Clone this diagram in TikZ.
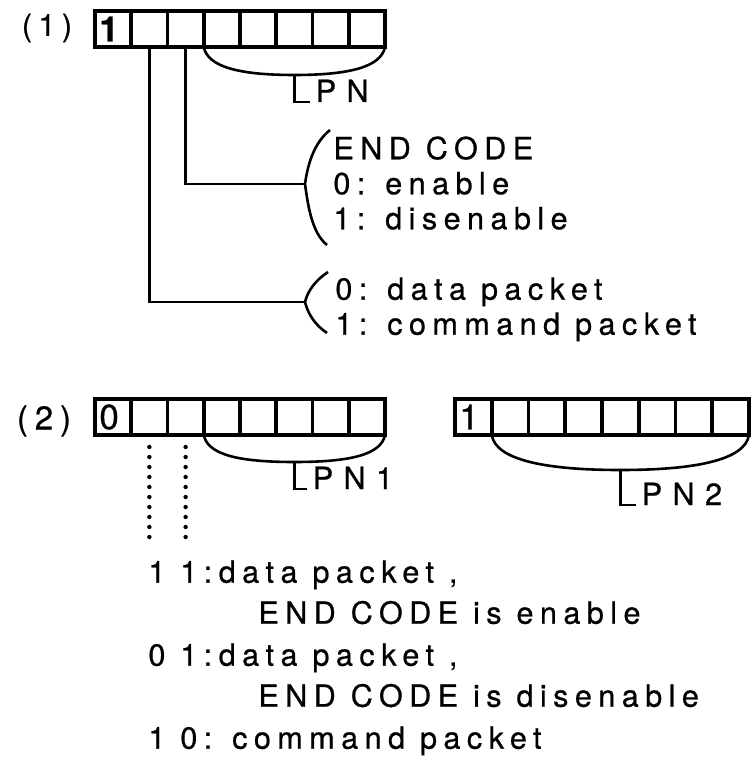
\documentclass[tikz,border=0pt]{standalone}
\usepackage{fontspec}
\setmainfont{TeX Gyre Heros}[LetterSpace=21, FakeBold=0.6]
\usetikzlibrary{calc, chains, positioning}

\begin{document}
\begin{tikzpicture}[x=0.5pt, y=-0.5pt, line width=1.4pt,
    node distance = 0pt,
    cell/.style = {draw, line width=1.8pt, minimum width=18.125pt,
        minimum height=18pt, inner sep=0pt, outer sep=0pt, on chain},
    longcell/.style = {cell, minimum width=18.375pt},
    digit/.style = {inner sep=0pt, anchor=west,
        font=\fontsize{17.5}{17.5}\selectfont},
    tag/.style = {inner sep=0pt, font=\fontsize{15.3}{17.5}\selectfont},
    txt/.style = {inner sep=0pt, align=left, anchor=north west,
        font=\fontsize{15.3}{17.5}\selectfont},
    item/.style = {txt, font=\fontsize{15.3}{20.5}\selectfont},
    pnlab/.style = {inner sep=0pt, anchor=base west,
        font=\fontsize{15.3}{17.5}\selectfont\addfontfeature{LetterSpace=34}},
    arc/.style = {line width=1.3pt},
    dots/.style = {line width=2.2pt, line cap=round,
        dash pattern=on 0pt off 5pt, shorten <=6pt}
  ]
  \useasboundingbox (0,0) rectangle (752,763);

  % (1) packet header
  \node[tag] (no1) at (47,28) {(1)};
  \begin{scope}[start chain=going right]
    \node[cell, anchor=north west] (a1) at (95,11) {};
    \foreach \i in {2,...,8}
      \node[cell] (a\i) {};
  \end{scope}
  \node[digit, font=\fontsize{17.5}{17.5}\selectfont\bfseries] (a1v)
    at ([xshift=1.5pt]a1.west) {1};

  % packet number field
  \coordinate (pn) at ($(a4.south west)!.5!(a8.south east)+(0,28)$);
  \draw[arc] (a4.south west) .. controls +(4,20) and +(-55,0) .. (pn)
    .. controls +(55,0) and +(-4,20) .. (a8.south east);
  \node[pnlab] (pnA) at ($(pn)+(20,27)$) {PN};
  \draw (pn) |- ([xshift=-2pt]pnA.base west);

  % bit meanings
  \coordinate (k1) at (305,184);
  \coordinate (k2) at (305,302);
  \draw (a3.south) |- (k1);
  \draw (a2.south) |- (k2);
  \node[txt] (endcode) at (332,135) {END CODE\\0: enable\\1: disenable};
  \node[txt] (ptype) at (334,276) {0: data packet\\1: command packet};
  \draw[arc] ($(k1)+(25,-54)$) .. controls +(-15,12) and +(3,-22) .. (k1)
    .. controls +(3,22) and +(-15,-12) .. ($(k1)+(22,61)$);
  \draw[arc] ($(k2)+(23,-30)$) .. controls +(-12,8) and +(3,-12) .. (k2)
    .. controls +(3,12) and +(-12,-8) .. ($(k2)+(22,31)$);

  % (2) two packets
  \node[tag, font=\fontsize{16.5}{17.5}\selectfont] (no2) at (44,421) {(2)};
  \begin{scope}[start chain=going right]
    \node[cell, anchor=north west] (c1) at (95,399) {};
    \foreach \i in {2,...,8}
      \node[cell] (c\i) {};
  \end{scope}
  \node[digit] (c1v) at ([xshift=1.5pt]c1.west) {0};
  \begin{scope}[start chain=going right]
    \node[longcell, anchor=north west] (b1) at (455,399) {};
    \foreach \i in {2,...,8}
      \node[longcell] (b\i) {};
  \end{scope}
  \node[digit] (b1v) at ([xshift=1.5pt]b1.west) {1};

  \coordinate (pn1) at ($(c4.south west)!.5!(c8.south east)+(0,27)$);
  \draw[arc] (c4.south west) .. controls +(4,20) and +(-55,0) .. (pn1)
    .. controls +(55,0) and +(-4,20) .. (c8.south east);
  \node[pnlab] (pnB) at ($(pn1)+(17,27)$) {PN1};
  \draw (pn1) |- ([xshift=-2pt]pnB.base west);

  \coordinate (pn2) at ($(b2.south west)!.5!(b8.south east)+(0,35)$);
  \draw[arc] (b2.south west) .. controls +(4,25) and +(-75,0) .. (pn2)
    .. controls +(75,0) and +(-4,25) .. (b8.south east);
  \node[pnlab] (pnC) at ($(pn2)+(20,35)$) {PN2};
  \draw (pn2) |- ([xshift=-2pt]pnC.base west);

  % first two bits together
  \coordinate (c2end) at ($(c2.south)+(0,102)$);
  \coordinate (c3end) at ($(c3.south)+(0,102)$);
  \draw[dots] (c2.south) -- (c2end);
  \draw[dots] (c3.south) -- (c3end);

  \node[item] (it11) at (147,559) {1 1:data packet ,\\\hspace*{55pt}END CODE is enable};
  \node[item] (it01) at (147,642) {0 1:data packet ,\\\hspace*{55pt}END CODE is disenable};
  \node[item] (it10) at (147,725) {1 0: command packet};
\end{tikzpicture}
\end{document}
